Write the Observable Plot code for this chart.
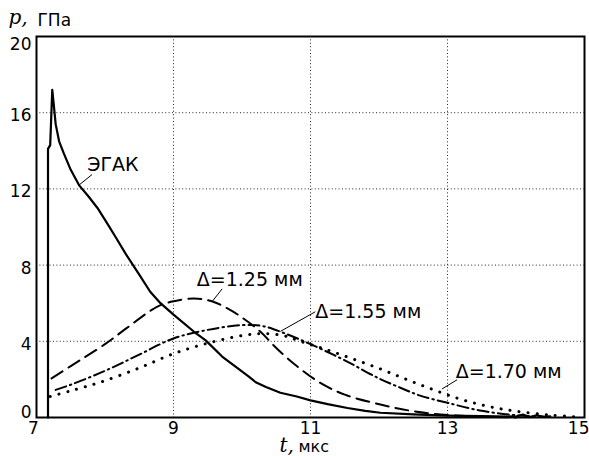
<!DOCTYPE html>
<html>
<head>
<meta charset="utf-8">
<script src="https://cdn.jsdelivr.net/npm/d3@7"></script>
<script src="https://cdn.jsdelivr.net/npm/@observablehq/plot@0.6"></script>
<style>
  html, body { margin: 0; padding: 0; background: white; }
</style>
</head>
<body>
<div id="chart"></div>
<script>
// ЭГАК (solid)
const egakT = [7.168, 7.168, 7.2, 7.23, 7.25, 7.28, 7.33, 7.4, 7.5, 7.62, 7.76, 7.89, 8.03, 8.15, 8.3, 8.5, 8.66, 8.81, 9.0, 9.3, 9.47, 9.71, 9.93, 10.1, 10.2, 10.35, 10.56, 10.8, 11.0, 11.25, 11.54, 11.8, 12.02, 12.5, 13.0, 13.5, 14.0, 14.1, 14.2, 14.3, 14.4, 14.5];
const egakP = [0, 14.1, 14.3, 17.2, 16.5, 15.4, 14.5, 13.85, 13.0, 12.2, 11.6, 11.0, 10.2, 9.5, 8.6, 7.5, 6.6, 6.0, 5.4, 4.5, 4.05, 3.2, 2.6, 2.15, 1.85, 1.6, 1.3, 1.1, 0.9, 0.7, 0.5, 0.35, 0.25, 0.16, 0.1, 0.07, 0.05, 0.15, 0.02, 0.12, 0.03, 0.06];
// Δ = 1.25 мм (dashed)
const d125T = [7.22, 7.5, 8.0, 8.3, 8.66, 8.81, 9.0, 9.3, 9.56, 9.8, 10.0, 10.27, 10.5, 10.8, 11.15, 11.5, 12.02, 12.5, 13.0, 13.5, 14.0];
const d125P = [2.05, 2.7, 3.85, 4.65, 5.6, 5.9, 6.1, 6.25, 6.1, 5.7, 5.25, 4.5, 3.65, 2.7, 1.8, 1.2, 0.68, 0.33, 0.13, 0.04, 0];
// Δ = 1.55 мм (dash-dot)
const d155T = [7.28, 7.5, 8.0, 8.5, 9.0, 9.5, 10.0, 10.3, 10.6, 11.0, 11.5, 12.0, 12.32, 12.6, 13.0, 13.5, 14.0, 14.5];
const d155P = [1.45, 1.72, 2.45, 3.3, 4.15, 4.6, 4.85, 4.8, 4.45, 3.85, 3.0, 2.05, 1.55, 1.15, 0.77, 0.35, 0.12, 0.02];
// Δ = 1.70 мм (dotted)
const d170T = [7.2, 7.5, 7.93, 8.5, 9.0, 9.5, 10.0, 10.3, 10.6, 10.85, 11.2, 11.6, 12.02, 12.4, 12.8, 13.2, 13.6, 14.0, 14.5, 14.9];
const d170P = [1.1, 1.4, 1.85, 2.6, 3.35, 3.9, 4.3, 4.4, 4.3, 4.0, 3.6, 3.1, 2.55, 2.0, 1.45, 0.95, 0.58, 0.33, 0.13, 0.03];

const xTicks = [7, 9, 11, 13, 15];
const yTicks = [0, 4, 8, 12, 16, 20];

// curve labels and leader lines (data coordinates)
const labelText = ["ЭГАК", "Δ=1.25 мм", "Δ=1.55 мм", "Δ=1.70 мм"];
const labelT = [7.74, 9.34, 11.07, 13.12];
const labelP = [12.95, 6.9, 5.22, 2.05];
const leaderT1 = [7.81, 9.71, 11.07, 13.14];
const leaderP1 = [12.75, 6.75, 5.55, 1.98];
const leaderT2 = [7.62, 9.565, 10.56, 12.92];
const leaderP2 = [12.2, 6.09, 4.52, 1.5];

const zip = (ts, ps) => ts.map((t, i) => ({t, p: ps[i]}));
const labels = labelText.map((text, i) => ({text, t: labelT[i], p: labelP[i]}));
const leaders = labelText.map((_, i) => ({t1: leaderT1[i], p1: leaderP1[i], t2: leaderT2[i], p2: leaderP2[i]}));

const axisOpts = {tickSize: 0, fontSize: 17, label: null};

const chart = Plot.plot({
  width: 589,
  height: 456,
  marginLeft: 36,
  marginRight: 5,
  marginTop: 36,
  marginBottom: 39,
  style: {fontFamily: "DejaVu Sans", background: "white", color: "black"},
  x: {domain: [7, 15]},
  y: {domain: [0, 20]},
  marks: [
    Plot.gridX(xTicks.slice(1, -1), {stroke: "black", strokeOpacity: 0.85, strokeDasharray: "1,2.4", strokeWidth: 1}),
    Plot.gridY(yTicks.slice(1, -1), {stroke: "black", strokeOpacity: 0.85, strokeDasharray: "1,2.4", strokeWidth: 1}),
    Plot.line(zip(d170T, d170P), {x: "t", y: "p", stroke: "black", strokeWidth: 3, strokeLinecap: "round", strokeDasharray: "0.1,9", curve: "catmull-rom"}),
    Plot.line(zip(d155T, d155P), {x: "t", y: "p", stroke: "black", strokeWidth: 2, strokeDasharray: "11,4,1.5,4", curve: "catmull-rom"}),
    Plot.line(zip(d125T, d125P), {x: "t", y: "p", stroke: "black", strokeWidth: 2, strokeDasharray: "13,7", curve: "catmull-rom"}),
    Plot.line(zip(egakT, egakP), {x: "t", y: "p", stroke: "black", strokeWidth: 2.2}),
    Plot.link(leaders, {x1: "t1", y1: "p1", x2: "t2", y2: "p2", stroke: "black", strokeWidth: 1}),
    Plot.text(labels, {x: "t", y: "p", text: "text", textAnchor: "start", lineAnchor: "bottom", fontSize: 19, fill: "black"}),
    Plot.frame({stroke: "black", strokeWidth: 2}),
    Plot.axisX(xTicks.slice(1, -1), {...axisOpts, tickPadding: 4}),
    Plot.axisX([xTicks[0]], {...axisOpts, tickPadding: 4, dx: -3}),
    Plot.axisX([xTicks[xTicks.length - 1]], {...axisOpts, tickPadding: 4, textAnchor: "end", dx: 5}),
    Plot.axisY(yTicks.slice(1, -1), {...axisOpts, tickPadding: 5, dy: 3}),
    Plot.axisY([yTicks[yTicks.length - 1]], {...axisOpts, tickPadding: 5, lineAnchor: "top", dy: 1}),
    Plot.axisY([yTicks[0]], {...axisOpts, tickPadding: 5, lineAnchor: "bottom", dy: 0}),
    Plot.text(["p,"], {text: d => d, frameAnchor: "top-left", dx: -28, dy: -13, textAnchor: "start", lineAnchor: "bottom", fontFamily: "DejaVu Serif", fontStyle: "italic", fontSize: 20}),
    Plot.text(["ГПа"], {text: d => d, frameAnchor: "top-left", dx: 1, dy: -11, textAnchor: "start", lineAnchor: "bottom", fontSize: 17}),
    Plot.text(["t,"], {text: d => d, frameAnchor: "bottom-left", dx: 243, dy: 34, textAnchor: "start", lineAnchor: "bottom", fontFamily: "DejaVu Serif", fontStyle: "italic", fontSize: 20}),
    Plot.text(["мкс"], {text: d => d, frameAnchor: "bottom-left", dx: 262, dy: 34, textAnchor: "start", lineAnchor: "bottom", fontSize: 16})
  ]
});
document.getElementById("chart").appendChild(chart);
</script>
</body>
</html>
